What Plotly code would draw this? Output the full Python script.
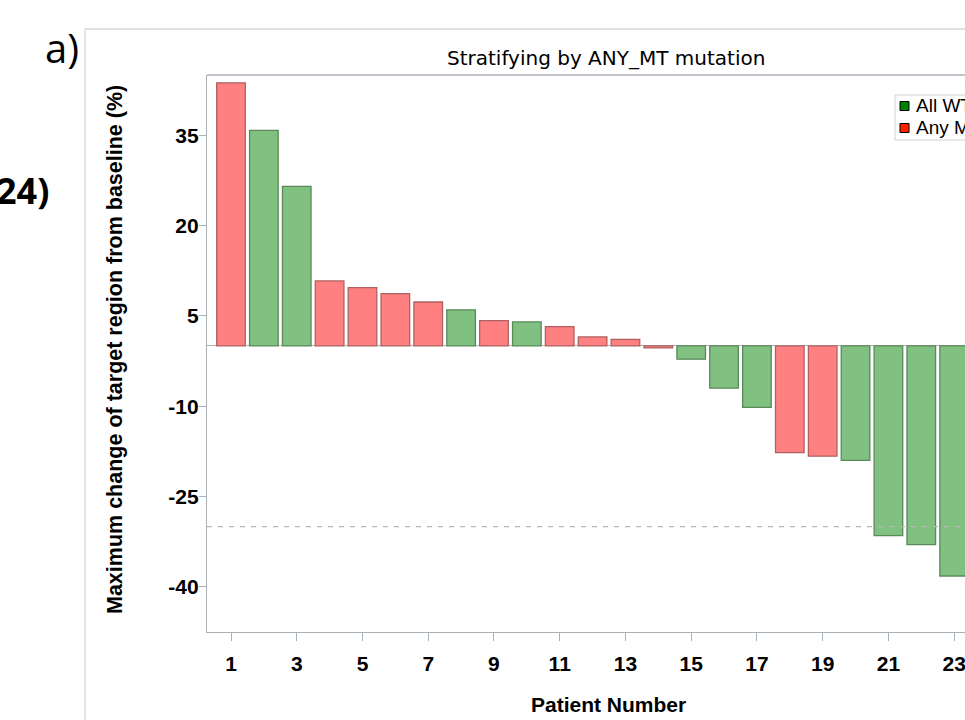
import plotly.graph_objects as go

# ---- data ----
patients = list(range(1, 24))
change_pct = [43.7, 35.8, 26.5, 10.8, 9.7, 8.7, 7.3, 6.0, 4.2, 4.0, 3.2, 1.5, 1.1, -0.3,
              -2.2, -7.0, -10.2, -17.7, -18.3, -19.0, -31.5, -33.0, -38.2]
group = ["MT", "WT", "WT", "MT", "MT", "MT", "MT", "WT", "MT", "WT", "MT", "MT", "MT", "MT",
         "WT", "WT", "WT", "MT", "MT", "WT", "WT", "WT", "WT"]
x_ticks = list(range(1, 24, 2))
y_ticks = [-40, -25, -10, 5, 20, 35]
y_tick_labels = [str(v) for v in y_ticks]
ref_line = -30
groups = ["WT", "MT"]
legend_names = {"WT": "All WT", "MT": "Any MT"}

W, H = 965, 720
L, R, T, B = 207, 0, 75, 720 - 632
PW, PH = W - L - R, H - T - B

def px(x):  # screen px -> paper
    return (x - L) / PW

def py(y):
    return 1 - (y - T) / PH

fill = {"WT": "#80C080", "MT": "#FF8080"}
edge = {"WT": "#5A895A", "MT": "#B06060"}
legend_col = {"WT": "#008000", "MT": "#FF2000"}

fig = go.Figure()
for g in groups:
    xs = [p for p, gg in zip(patients, group) if gg == g]
    ys = [v for v, gg in zip(change_pct, group) if gg == g]
    fig.add_trace(go.Bar(x=xs, y=ys, width=0.87, name=legend_names[g],
                         marker=dict(color=fill[g], line=dict(color=edge[g], width=1.3)),
                         showlegend=False))

axis_col = "#A9B0B7"
tick_font = dict(family="Liberation Sans", size=21, color="black", weight="bold")

fig.update_layout(
    width=W, height=H,
    margin=dict(l=L, r=R, t=T, b=B, autoexpand=False),
    paper_bgcolor="white", plot_bgcolor="white",
    barmode="overlay",
    showlegend=False,
    xaxis=dict(range=[0.27, 23.33], tickvals=x_ticks, ticks="outside", ticklen=8,
               tickcolor=axis_col, tickwidth=1.3, showline=True, linecolor=axis_col,
               linewidth=1.3, mirror=False, showgrid=False, zeroline=False,
               tickfont=tick_font, ticklabelstandoff=5, ticklabeloverflow="allow"),
    yaxis=dict(range=[-47.5, 45.0], tickvals=y_ticks, ticktext=y_tick_labels,
               ticks="outside", ticklen=7,
               tickcolor=axis_col, tickwidth=1.3, showline=True, linecolor=axis_col,
               linewidth=1.3, showgrid=False, zeroline=True, zerolinecolor="#B0B0B0",
               zerolinewidth=1.3, tickfont=tick_font, ticklabelstandoff=-4),
)

# reference dashed line (drawn over bars)
fig.add_shape(type="line", xref="paper", yref="y", x0=0, x1=1, y0=ref_line, y1=ref_line,
              line=dict(color="#B8B8B8", width=1.3, dash="5px,6px"), layer="above")
# plot top border
fig.add_shape(type="line", xref="paper", yref="paper", x0=0, x1=1, y0=1, y1=1,
              line=dict(color=axis_col, width=1.3))
# outer frame
fig.add_shape(type="line", xref="paper", yref="paper", x0=px(85), x1=px(85), y0=py(29), y1=py(730),
              line=dict(color="#D3D6D9", width=1.3))
fig.add_shape(type="line", xref="paper", yref="paper", x0=px(85), x1=px(975), y0=py(29), y1=py(29),
              line=dict(color="#D3D6D9", width=1.3))

# legend (drawn manually, clipped at the right edge like the reference)
fig.add_shape(type="rect", xref="paper", yref="paper", x0=px(895), x1=px(1010),
              y0=py(95), y1=py(140), line=dict(color="#D0D0D0", width=1), fillcolor="white")
for i, g in enumerate(groups):
    yc = 106 + 22 * i
    fig.add_shape(type="rect", xref="paper", yref="paper", x0=px(900), x1=px(909),
                  y0=py(yc - 4.5), y1=py(yc + 4.5), line=dict(color="black", width=1),
                  fillcolor=legend_col[g])
    fig.add_annotation(text=legend_names[g], xref="paper", yref="paper", x=px(914), y=py(yc),
                       xanchor="left", yanchor="middle", showarrow=False,
                       font=dict(family="Liberation Sans", size=19, color="black"))

# title
fig.add_annotation(text="Stratifying by ANY_MT mutation", xref="paper", yref="paper",
                   x=px(606), y=py(58), xanchor="center", yanchor="middle", showarrow=False,
                   font=dict(family="DejaVu Sans", size=20, color="black"))
# axis titles
fig.add_annotation(text="Patient Number", xref="paper", yref="paper",
                   x=px(608), y=py(704), xanchor="center", yanchor="middle", showarrow=False,
                   font=dict(family="Liberation Sans", size=21, color="black", weight="bold"))
fig.add_annotation(text="Maximum change of target region from baseline (%)", xref="paper",
                   yref="paper", x=px(115), y=py(350), xanchor="center", yanchor="middle",
                   textangle=-90, showarrow=False,
                   font=dict(family="Liberation Sans", size=21.5, color="black", weight="bold"))
# panel labels from surrounding page
fig.add_annotation(text="a)", xref="paper", yref="paper", x=px(81), y=py(47),
                   xanchor="right", yanchor="middle", showarrow=False,
                   font=dict(family="Open Sans", size=40, color="black"))
fig.add_annotation(text="24)", xref="paper", yref="paper", x=px(51), y=py(190),
                   xanchor="right", yanchor="middle", showarrow=False,
                   font=dict(family="Open Sans", size=36, color="black", weight="bold"))

fig.write_html("out.html", config={"displayModeBar": False},
               post_script="document.body.style.margin='0';document.body.style.overflow='hidden';")
